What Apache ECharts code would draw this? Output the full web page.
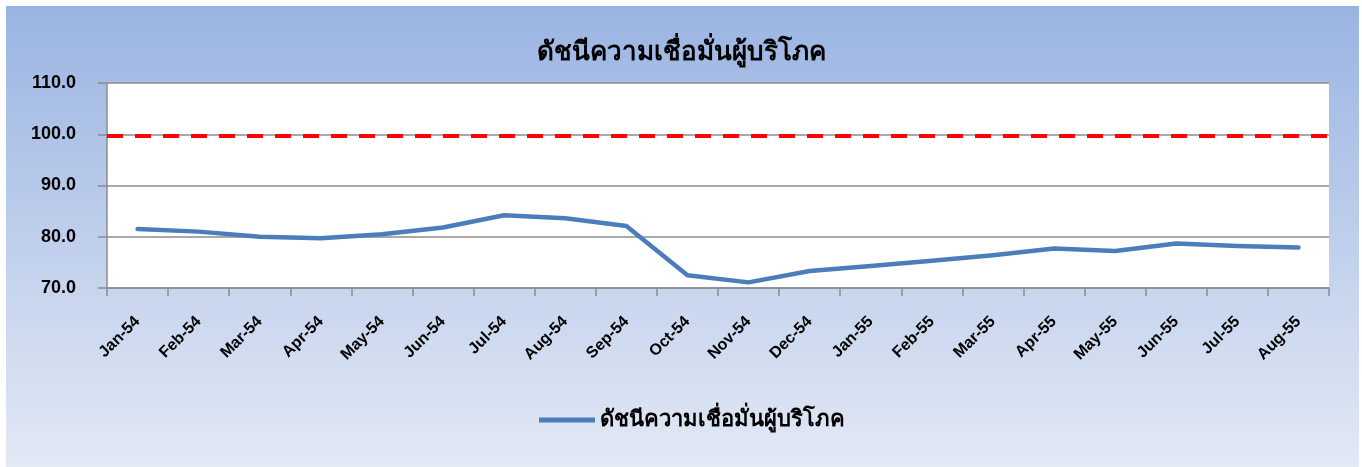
<!DOCTYPE html>
<html><head><meta charset="utf-8">
<script src="https://cdn.jsdelivr.net/npm/echarts@6/dist/echarts.min.js"></script>
<style>html,body{margin:0;padding:0;background:#fff}#c{width:1362px;height:467px}</style>
</head><body><div id="c"></div>
<script>
const title = 'ดัชนีความเชื่อมั่นผู้บริโภค';
const categories = ['Jan-54','Feb-54','Mar-54','Apr-54','May-54','Jun-54','Jul-54','Aug-54','Sep-54','Oct-54','Nov-54','Dec-54','Jan-55','Feb-55','Mar-55','Apr-55','May-55','Jun-55','Jul-55','Aug-55'];
const confidence = [81.5,81.0,80.0,79.7,80.5,81.8,84.2,83.6,82.1,72.5,71.1,73.3,74.3,75.3,76.4,77.7,77.2,78.7,78.2,77.9];
const threshold = 99.7;
const yTicks = {min:70, max:110, interval:10};

const chart = echarts.init(document.getElementById('c'), null, {renderer:'canvas'});
const font = 'Liberation Sans, Arial, sans-serif';
chart.setOption({
  backgroundColor:'#fff',
  graphic:[{type:'rect', z:-10, silent:true, shape:{x:6,y:6,width:1353,height:461},
    style:{fill:new echarts.graphic.LinearGradient(0,0,0,1,[{offset:0,color:'#9ab4e2'},{offset:1,color:'#e3e9f5'}])}}],
  title:{text:title, left:'center', top:35, textStyle:{fontFamily:font, fontWeight:'bold', fontSize:26, color:'#000'}},
  legend:{bottom:31, left:534, itemWidth:56, itemHeight:5, itemGap:8,
    data:[{name:title, icon:'path://M0,0 L56,0 L56,5 L0,5 Z'}],
    textStyle:{fontFamily:font, fontWeight:'bold', fontSize:22, color:'#000'}},
  grid:{left:107, right:33, top:83, bottom:179, backgroundColor:'#fff', show:true, borderWidth:0},
  xAxis:{type:'category', data:categories, boundaryGap:true,
    axisLine:{lineStyle:{color:'#8c8c8c', width:1.5}},
    axisTick:{show:true, length:8, lineStyle:{color:'#8c8c8c', width:1.5}},
    axisLabel:{rotate:45, interval:0, margin:31, fontFamily:font, fontWeight:'bold', fontSize:16, color:'#000'}},
  yAxis:{type:'value', min:yTicks.min, max:yTicks.max, interval:yTicks.interval,
    axisLine:{show:true, lineStyle:{color:'#8c8c8c', width:1.5}},
    axisTick:{show:true, length:9, lineStyle:{color:'#8c8c8c', width:1.5}},
    splitLine:{lineStyle:{color:'#8c8c8c', width:1.5}},
    axisLabel:{margin:31, fontFamily:font, fontWeight:'bold', fontSize:18, color:'#000', formatter:v=>v.toFixed(1)}},
  series:[{name:title, type:'line', data:confidence, symbol:'none', smooth:false,
    lineStyle:{color:'#4a7ebb', width:4.5, cap:'round', join:'round'}, itemStyle:{color:'#4a7ebb'},
    markLine:{silent:true, symbol:'none', label:{show:false},
      data:[{yAxis:threshold}],
      lineStyle:{color:'#ff0000', width:4, type:[16,12]}}}]
});
</script></body></html>
